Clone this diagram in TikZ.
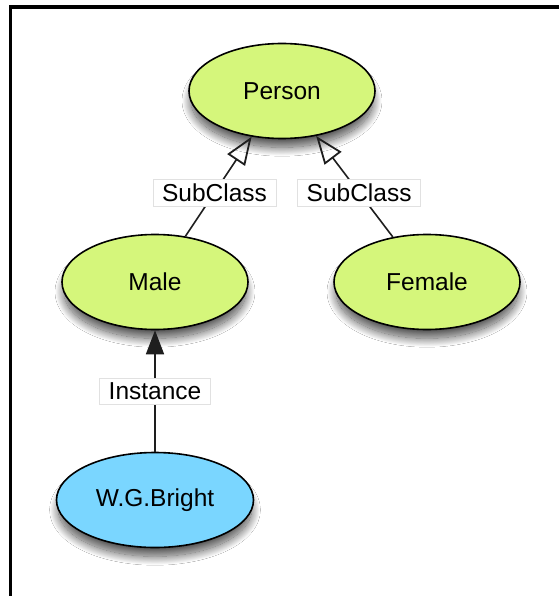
\documentclass[tikz,border=0pt]{standalone}
\usepackage{fontspec}
\setmainfont{Liberation Sans}
\usetikzlibrary{arrows.meta,shadows.blur,shapes.geometric}
\definecolor{classgreen}{RGB}{213,246,123}
\definecolor{instblue}{RGB}{122,214,255}
\definecolor{edgegray}{RGB}{30,30,30}
\definecolor{lblborder}{RGB}{225,225,225}
\tikzset{
  concept/.style={ellipse, draw=black, line width=1.6pt,
    minimum width=186pt, minimum height=95pt, inner sep=0pt,
    font=\fontsize{24.5}{28}\selectfont,
    blur shadow={shadow xshift=0pt, shadow yshift=-10pt,
      shadow blur radius=9pt, shadow blur steps=30,
      shadow scale=0.98, shadow opacity=70}},
  classnode/.style={concept, fill=classgreen},
  instnode/.style={concept, fill=instblue, minimum width=197pt},
  relation/.style={draw=edgegray, line width=1.6pt},
  subclassof/.style={relation, -{Triangle[open, length=28pt, width=21pt, line width=1.8pt]}},
  instanceof/.style={relation, -{Triangle[length=24pt, width=18pt]}},
  edgelabel/.style={fill=white, draw=lblborder, line width=0.6pt,
    inner xsep=9pt, inner ysep=4.5pt, font=\fontsize{24.5}{28}\selectfont}
}
\begin{document}
\begin{tikzpicture}[x=1pt, y=-1pt]
  \useasboundingbox (0,0) rectangle (559,596);
  \fill[white] (0,0) rectangle (559,596);
  % frame
  \draw[line width=3.8pt] (559,7) -- (10.5,7) -- (10.5,596);

  % concepts
  \node[classnode] (person) at (282,91) {Person};
  \node[classnode] (male)   at (155,282) {Male};
  \node[classnode] (female) at (427,282) {Female};
  \node[instnode]  (bright) at (155,500) {W.G.Bright};

  % relations
  \draw[subclassof] (male) -- node[pos=0.44, edgelabel] (lblmale) {SubClass} (person);
  \draw[subclassof] (female) -- node[pos=0.44, edgelabel] (lblfemale) {SubClass} (person);
  \draw[instanceof] (bright) -- node[pos=0.5, edgelabel] (lblinst) {Instance} (male);
\end{tikzpicture}
\end{document}
